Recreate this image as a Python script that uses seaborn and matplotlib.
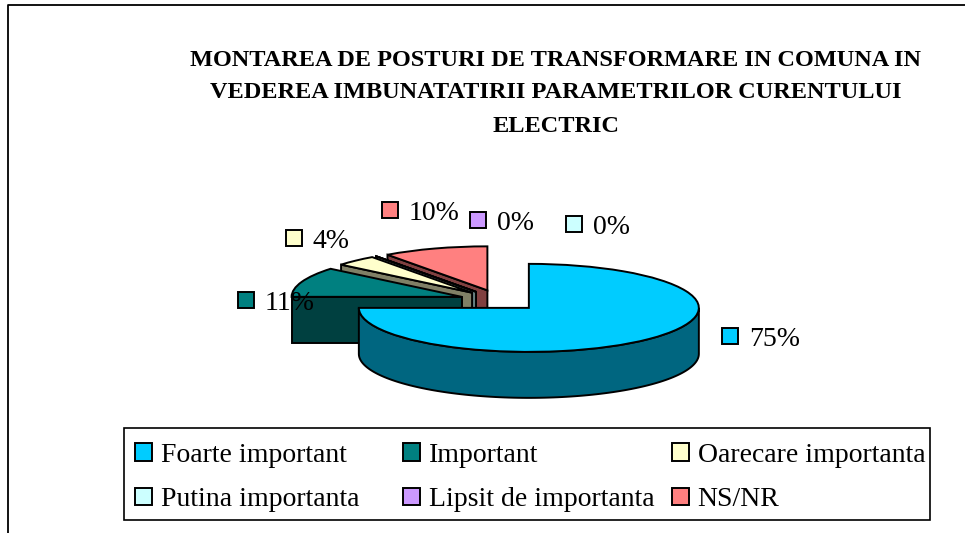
import numpy as np
import seaborn as sns
import matplotlib
matplotlib.use('Agg')
import matplotlib.pyplot as plt
from matplotlib.patches import Polygon, Rectangle
from matplotlib.lines import Line2D

categories = ['Foarte important', 'Important', 'Oarecare importanta',
              'Putina importanta', 'Lipsit de importanta', 'NS/NR']
percent_values = [75, 11, 4, 0, 0, 10]
slice_colors = ['#00CCFF', '#008080', '#FFFFCC', '#CCFFFF', '#CC99FF', '#FF8080']
title_lines = ['MONTAREA DE POSTURI DE TRANSFORMARE IN COMUNA IN',
               'VEDEREA IMBUNATATIRII PARAMETRILOR CURENTULUI',
               'ELECTRIC']

sns.set_theme(style='white')
plt.rcParams['font.family'] = ['Liberation Serif', 'DejaVu Serif']

W, H = 965, 533
CX, CY, RX, RY = 500, 300.4, 170, 44
DEPTH = 46 / RY
EXPLODE = 0.24


def px(x, y):
    return (x - CX) / RX, (CY - y) / RY


def shade(col, factor=0.5):
    r, g, b = matplotlib.colors.to_rgb(col)
    return (r * factor, g * factor, b * factor)


fig = plt.figure(figsize=(W / 100, H / 100), dpi=100, facecolor='white')
ax = fig.add_axes([0, 0, 1, 1])

palette = sns.color_palette(slice_colors)
wedges, _ = ax.pie(percent_values, colors=palette, startangle=90, counterclock=False,
                   explode=[EXPLODE] * len(percent_values), normalize=True,
                   wedgeprops=dict(edgecolor='black', linewidth=1.4))
ax.set_aspect('auto')
ax.set_xlim(px(0, 0)[0], px(W, 0)[0])
ax.set_ylim(px(0, H)[1], px(0, 0)[1])
ax.axis('off')

# extruded sides, back slices first, the big slice last
for i in [5, 4, 3, 2, 1, 0]:
    w = wedges[i]
    c = np.array(w.center)
    z = 1 + (5 - i) * 0.5
    w.set_zorder(z + 0.2)
    if i == 0:
        th = np.radians(np.linspace(180, 360, 120))
        arc = np.c_[c[0] + np.cos(th), c[1] + np.sin(th)]
        side = np.vstack([arc, (arc - [0, DEPTH])[::-1]])
    else:
        # pie runs clockwise, so the start edge of the slice is the larger angle
        a = np.radians(w.theta2)
        out = c + [np.cos(a), np.sin(a)]
        side = np.array([c, out, out - [0, DEPTH], c - [0, DEPTH]])
    ax.add_patch(Polygon(side, closed=True, facecolor=shade(slice_colors[i]),
                         edgecolor='black', linewidth=1.4, zorder=z))

# data labels with their colour key
label_pos = [(722, 336), (238, 300), (286, 238), (566, 224), (470, 220), (382, 210)]
for val, col, (x, y) in zip(percent_values, slice_colors, label_pos):
    x0, y0 = px(x, y + 8)
    x1, y1 = px(x + 16, y - 8)
    ax.add_patch(Rectangle((x0, y0), x1 - x0, y1 - y0, facecolor=col, edgecolor='black',
                           linewidth=1.4, zorder=10))
    tx, ty = px(x + 27, y + 3)
    ax.text(tx, ty, f'{val}%', fontsize=20, color='black', ha='left', va='center', zorder=11)

# title
for line, ypix in zip(title_lines, [61, 92, 127]):
    tx, ty = px(556, ypix)
    ax.text(tx, ty, line, fontsize=17.5, fontweight='bold', color='black', ha='center', va='center')

# outer frame, open to the right and bottom
ax.add_line(Line2D(*zip(px(8, H), px(8, 5), px(W, 5)), color='black', linewidth=1.3, zorder=12))

# legend box, one legend per column so the columns sit where they should
x0, y0 = px(124, 520)
x1, y1 = px(930, 428)
ax.add_patch(Rectangle((x0, y0), x1 - x0, y1 - y0, facecolor='white', edgecolor='black',
                       linewidth=1.2, zorder=13))
handles = [Rectangle((0, 0), 1, 1, facecolor=c, edgecolor='black', linewidth=1.4) for c in slice_colors]
col_x = [135, 403, 672]
for j, xp in enumerate(col_x):
    leg = ax.legend([handles[j], handles[j + 3]], [categories[j], categories[j + 3]],
                    loc='center left', bbox_to_anchor=(xp / W, 1 - 477.5 / H),
                    bbox_transform=fig.transFigure, borderaxespad=0, borderpad=0,
                    fontsize=20, frameon=False, labelcolor='black',
                    handlelength=0.6, handleheight=0.6, handletextpad=0.32, labelspacing=0.7)
    leg.set_zorder(20)
    # ax.legend replaces the previous one, so keep the earlier columns as artists
    if j < len(col_x) - 1:
        ax.add_artist(leg)

fig.savefig('out.png', dpi=100, facecolor='white')
